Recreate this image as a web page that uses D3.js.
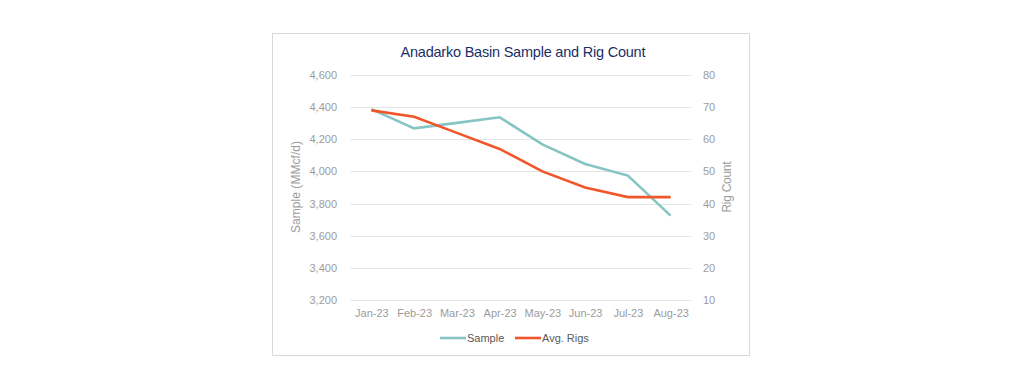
<!DOCTYPE html>
<html>
<head>
<meta charset="utf-8">
<title>Anadarko Basin Sample and Rig Count</title>
<script src="https://cdn.jsdelivr.net/npm/d3@7"></script>
<style>
  body{ margin:0; background:#fff; }
  .axis{ color:#9c9c9c; }
  .tick text{ fill:#9c9c9c; font-size:11px; font-family:"Liberation Sans", Arial, sans-serif; }
  .axis-title{ fill:#9c9c9c; font-size:12px; font-family:"Liberation Sans", Arial, sans-serif; }
  .legend text{ fill:#595959; font-size:11px; font-family:"Liberation Sans", Arial, sans-serif; }
  #title{ fill:#1b2f66; font-size:14.5px; font-family:"Liberation Sans", Arial, sans-serif; }
</style>
</head>
<body>
<script>
// data
let months = ["Jan-23","Feb-23","Mar-23","Apr-23","May-23","Jun-23","Jul-23","Aug-23"]
let sample = [4388, 4268, 4302, 4337, 4168, 4046, 3974, 3725]
let rigs = [69, 67, 62, 57, 50, 45, 42, 42]
let leftTicks = [3200, 3400, 3600, 3800, 4000, 4200, 4400, 4600]
let rightTicks = [10, 20, 30, 40, 50, 60, 70, 80]

let w = 1033, h = 376
let svg = d3.select("body").append("svg")
            .attr("width", w)
            .attr("height", h)

// outer frame
svg.append("rect")
    .attr("x", 272.5).attr("y", 33.5)
    .attr("width", 477).attr("height", 322)
    .attr("fill", "#fff")
    .attr("stroke", "#d9d9d9")

let plotL = 350, plotR = 692, plotT = 75, plotB = 300

let x = d3.scalePoint().domain(months).range([plotL, plotR]).padding(0.5)
let yL = d3.scaleLinear().domain([3200, 4600]).range([plotB, plotT])
let yR = d3.scaleLinear().domain([10, 80]).range([plotB, plotT])

// gridlines
svg.append("g").selectAll("line")
    .data(leftTicks)
    .enter().append("line")
    .attr("x1", plotL).attr("x2", plotR)
    .attr("y1", d => Math.round(yL(d)) + 0.5)
    .attr("y2", d => Math.round(yL(d)) + 0.5)
    .attr("stroke", "#e6e6e6")
    .attr("stroke-width", 1)

let fmt = d3.format(",")
let gl = svg.append("g")
    .attr("class", "axis")
    .attr("transform", "translate(" + (plotL - 13) + ",0)")
    .call(d3.axisLeft(yL).tickValues(leftTicks).tickFormat(fmt).tickSize(0).tickPadding(0))
gl.select(".domain").remove()

let gr = svg.append("g")
    .attr("class", "axis")
    .attr("transform", "translate(" + (plotR + 11) + ",0)")
    .call(d3.axisRight(yR).tickValues(rightTicks).tickSize(0).tickPadding(0))
gr.select(".domain").remove()

let gx = svg.append("g")
    .attr("class", "axis")
    .attr("transform", "translate(0," + (plotB + 9) + ")")
    .call(d3.axisBottom(x).tickSize(0).tickPadding(0))
gx.select(".domain").remove()

// axis titles
svg.append("text")
    .attr("class", "axis-title")
    .attr("transform", "translate(300,187) rotate(-90)")
    .attr("text-anchor", "middle")
    .attr("textLength", 92)
    .text("Sample (MMcf/d)")
svg.append("text")
    .attr("class", "axis-title")
    .attr("transform", "translate(731,187) rotate(-90)")
    .attr("text-anchor", "middle")
    .attr("textLength", 51)
    .text("Rig Count")

// title
svg.append("text")
    .attr("id", "title")
    .attr("x", 523).attr("y", 57)
    .attr("text-anchor", "middle")
    .attr("textLength", 245)
    .text("Anadarko Basin Sample and Rig Count")

// lines
let lineL = d3.line().x((d, i) => x(months[i])).y(d => yL(d))
let lineR = d3.line().x((d, i) => x(months[i])).y(d => yR(d))
svg.append("path")
    .datum(sample)
    .attr("d", lineL)
    .attr("fill", "none")
    .attr("stroke", "#86c5c4")
    .attr("stroke-width", 2.6)
svg.append("path")
    .datum(rigs)
    .attr("d", lineR)
    .attr("fill", "none")
    .attr("stroke", "#f0562a")
    .attr("stroke-width", 2.6)

// legend
let legendItems = [["Sample", "#86c5c4", 440], ["Avg. Rigs", "#f0562a", 515]]
let lg = svg.append("g").attr("class", "legend")
legendItems.forEach(d => {
    lg.append("line")
        .attr("x1", d[2]).attr("x2", d[2] + 26)
        .attr("y1", 338).attr("y2", 338)
        .attr("stroke", d[1])
        .attr("stroke-width", 2.6)
    lg.append("text")
        .attr("x", d[2] + 27).attr("y", 342)
        .text(d[0])
})
</script>
</body>
</html>
